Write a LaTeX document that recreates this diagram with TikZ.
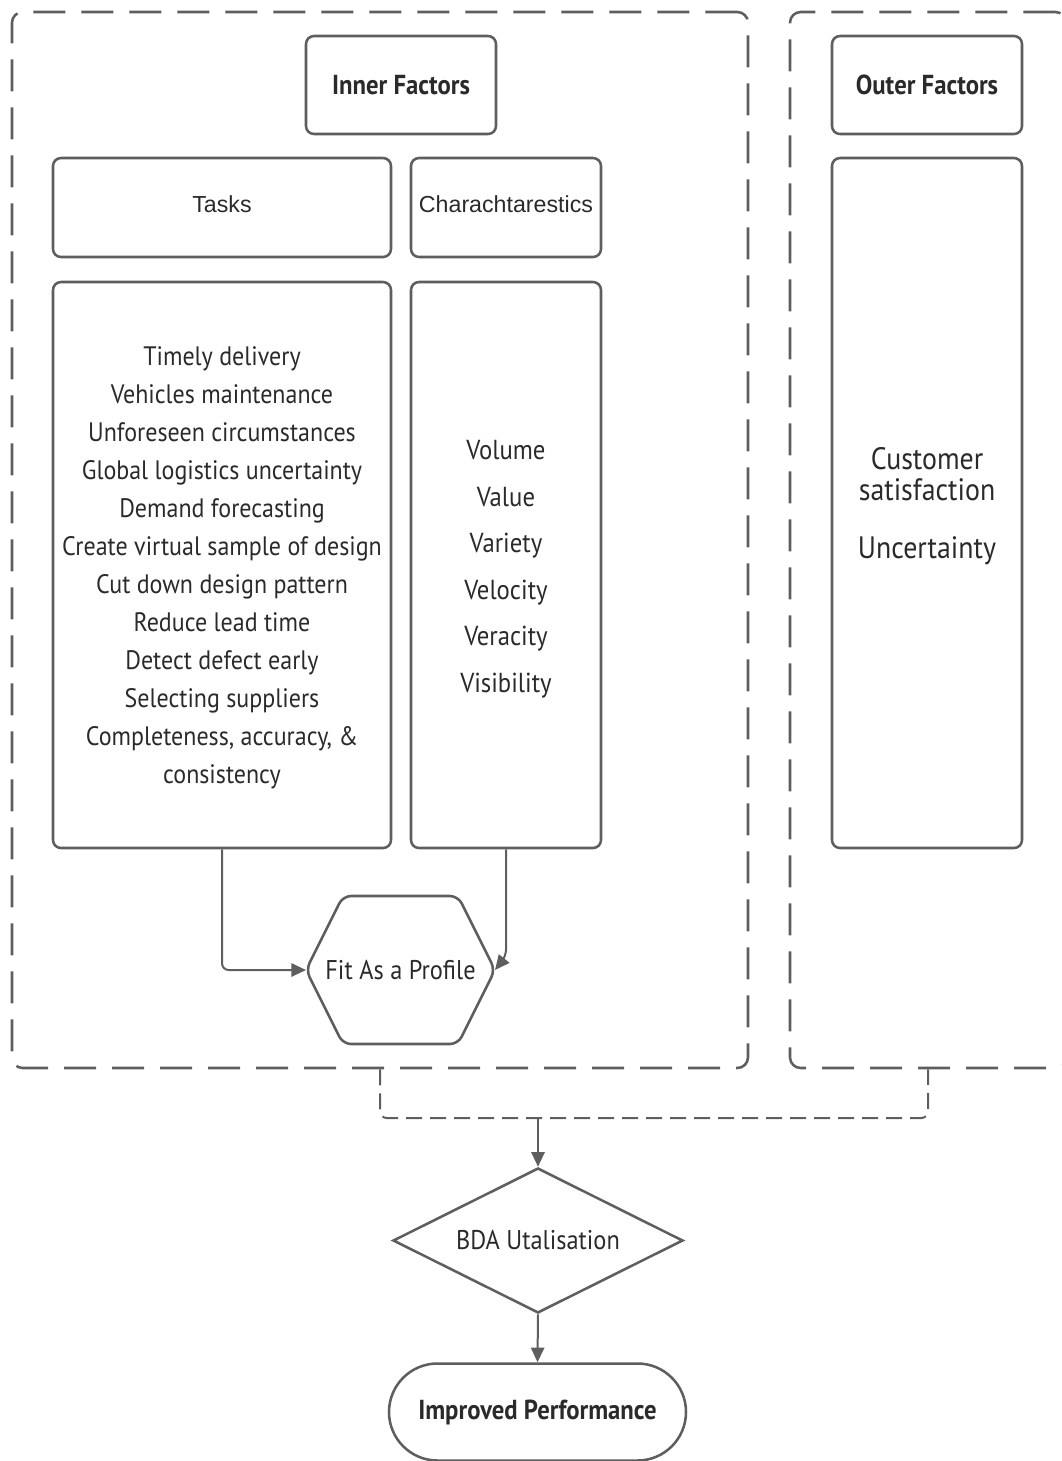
\documentclass[tikz,border=0pt]{standalone}
\usepackage{fontspec}
\setmainfont{PT Sans}[FakeStretch=0.9]
\newfontfamily\arialfont{Liberation Sans}
\usetikzlibrary{shapes.geometric,shapes.misc,arrows.meta}
\definecolor{edge}{HTML}{5E5E5E}
\definecolor{ink}{HTML}{2A2A2A}
\begin{document}
\begin{tikzpicture}[x=0.75pt,y=-0.75pt,
  box/.style={draw=edge,line width=1.9pt,rounded corners=6pt,text=ink,align=center,inner sep=0pt},
  group/.style={draw=edge,line width=1.9pt,rounded corners=8pt,dash pattern=on 24pt off 12pt,inner sep=0pt},
  link/.style={draw=edge,line width=1.5pt,rounded corners=5pt},
  bracket/.style={link,dash pattern=on 12pt off 6pt},
  tip/.style={-{Triangle[length=11pt,width=10pt]}},
  head/.style={font=\bfseries\fontsize{20.6}{24}\selectfont},
  plain/.style={font=\arialfont\fontsize{17.4}{20}\selectfont},
  label/.style={font=\fontsize{20.3}{24}\selectfont},
  list/.style={font=\fontsize{20}{28.5}\selectfont},
  clist/.style={font=\fontsize{20.6}{34.9}\selectfont},
  olist/.style={font=\fontsize{23.2}{23.2}\selectfont},
]
\useasboundingbox (0,0) rectangle (1061,1461);
\clip (0,0) rectangle (1061,1461);

% group frames
\node[group,minimum width=736*0.75pt,minimum height=1056*0.75pt] (inframe) at (380,540) {};
\node[group,minimum width=276*0.75pt,minimum height=1056*0.75pt] (outframe) at (928,540) {};

% inner factors
\node[box,head,minimum width=190*0.75pt,minimum height=98*0.75pt] (inner) at (401,85) {Inner Factors};
\node[box,minimum width=338*0.75pt,minimum height=99*0.75pt] (tasks) at (222,207.5) {};
\node[plain,text=ink] at (222,204) {Tasks};
\node[box,minimum width=190*0.75pt,minimum height=99*0.75pt] (chars) at (506,207.5) {};
\node[plain,text=ink] at (506,204) {Charachtarestics};
\node[box,minimum width=338*0.75pt,minimum height=566*0.75pt] (tasklist) at (222,565) {};
\node[list,text=ink,align=center] at (222,568) {Timely delivery\\Vehicles maintenance\\Unforeseen circumstances\\Global logistics uncertainty\\Demand forecasting\\Create virtual sample of design\\Cut down design pattern\\Reduce lead time\\Detect defect early\\Selecting suppliers\\Completeness, accuracy, \&\\consistency};
\node[box,minimum width=190*0.75pt,minimum height=566*0.75pt] (charlist) at (506,565) {};
\node[clist,text=ink,align=center] at (506,569) {Volume\\Value\\Variety\\Velocity\\Veracity\\Visibility};

% outer factors
\node[box,head,minimum width=190*0.75pt,minimum height=98*0.75pt] (outer) at (927,85) {Outer Factors};
\node[box,minimum width=190*0.75pt,minimum height=690*0.75pt] (outlist) at (927,503) {};
\node[olist,text=ink,align=center] at (927,506) {Customer\\satisfaction\\[20pt]Uncertainty};

% fit as a profile
\draw[draw=edge,line width=1.9pt,rounded corners=6pt] (306,970) -- (343,896) -- (458,896) -- (495,970) -- (458,1044) -- (343,1044) -- cycle;
\node[text=ink,label] (fit) at (400.5,970) {Fit As a Profile};
\coordinate (fitW) at (306,970);
\coordinate (fitE) at (495,970);

\draw[link,tip] (tasklist.south) |- (fitW);
\draw[link,tip] (charlist.south) -- ++(0,107) -- (fitE);

% utilisation and outcome
\node[diamond,aspect=2,draw=edge,line width=1.9pt,inner sep=0pt,minimum width=290*0.75pt,minimum height=145*0.75pt,text=ink,label] (bda) at (538,1240.5) {BDA Utalisation};
\node[rounded rectangle,draw=edge,line width=1.9pt,inner sep=0pt,minimum width=297*0.75pt,minimum height=97*0.75pt,text=ink,head] (perf) at (537.5,1412) {Improved Performance};

\coordinate (join) at (538,1118);
\draw[bracket] (inframe.south) |- (join) -| (outframe.south);
\draw[link,tip] (join) -- (bda.north);
\draw[link,tip] (bda.south) -- (perf.north);
\end{tikzpicture}
\end{document}
